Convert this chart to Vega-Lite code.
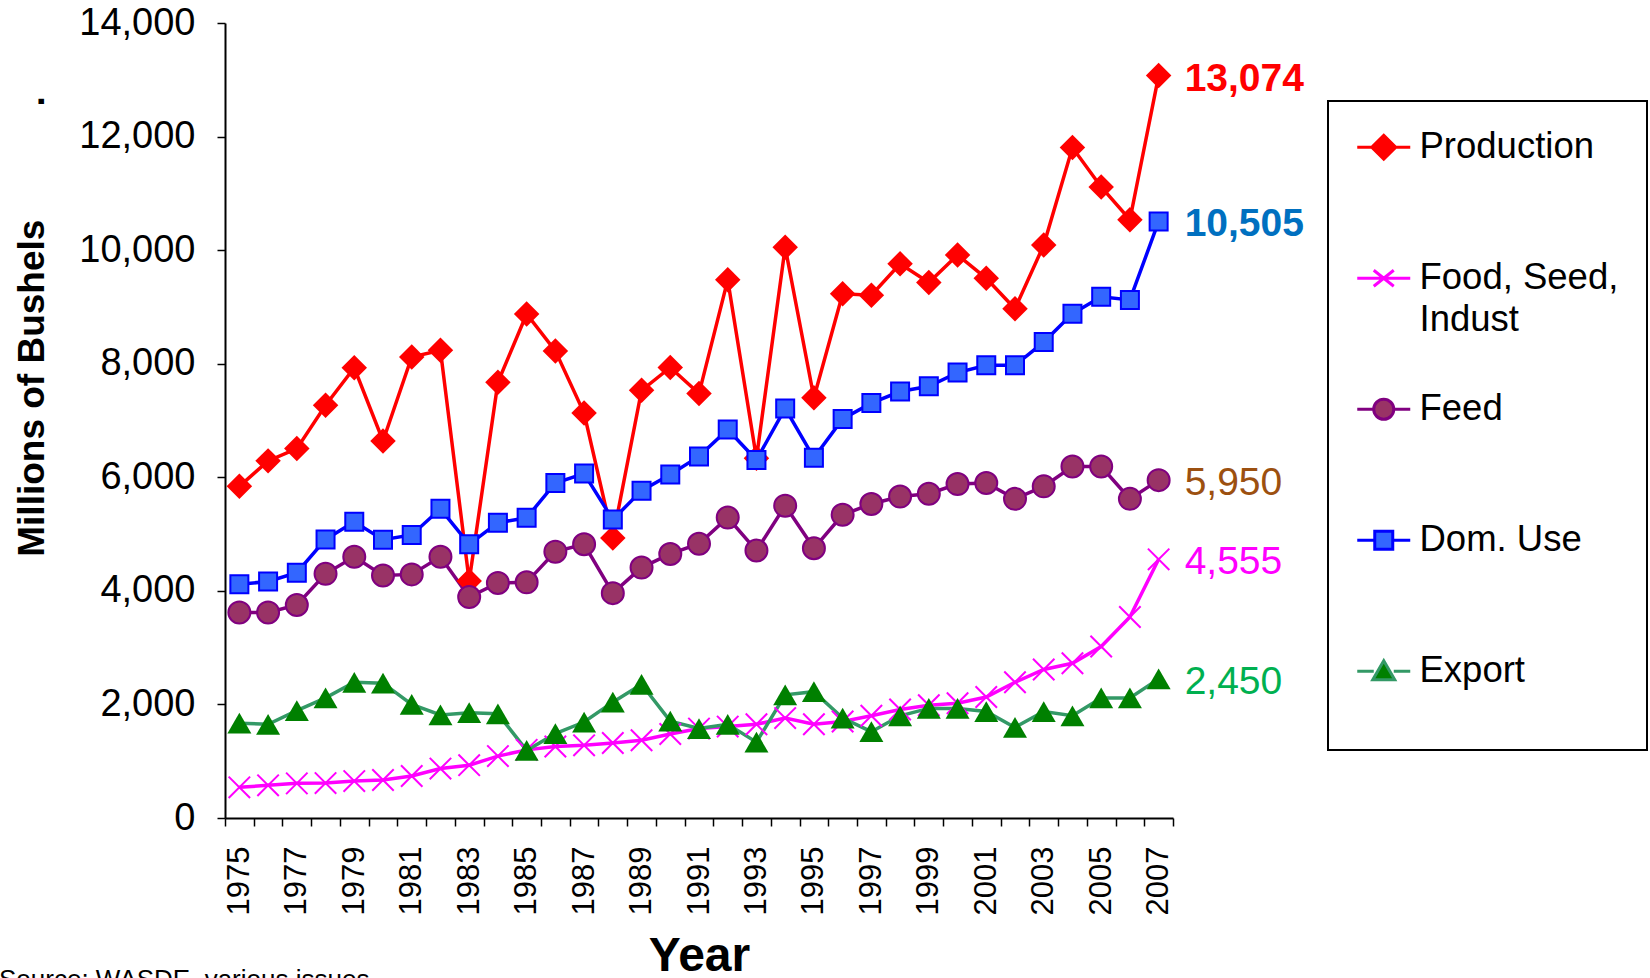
{
  "$schema": "https://vega.github.io/schema/vega-lite/v6.json",
  "width": 948,
  "height": 795,
  "autosize": {"type": "none"},
  "padding": {"left": 225, "top": 23, "right": 477, "bottom": 160},
  "background": "white",
  "config": {"view": {"stroke": null}, "font": "Liberation Sans"},
  "title": {"text": "Source: WASDE, various issues", "orient": "bottom", "anchor": "start", "frame": "group", "offset": 8, "dx": -226, "baseline": "alphabetic", "fontSize": 26, "fontWeight": "normal", "font": "Liberation Sans", "color": "black"},
  "data": {"values": [
    {"year":1975,"series":"Production","value":5841},{"year":1976,"series":"Production","value":6289},{"year":1977,"series":"Production","value":6505},{"year":1978,"series":"Production","value":7268},{"year":1979,"series":"Production","value":7928},{"year":1980,"series":"Production","value":6639},{"year":1981,"series":"Production","value":8119},{"year":1982,"series":"Production","value":8235},{"year":1983,"series":"Production","value":4174},{"year":1984,"series":"Production","value":7672},{"year":1985,"series":"Production","value":8875},{"year":1986,"series":"Production","value":8226},{"year":1987,"series":"Production","value":7131},{"year":1988,"series":"Production","value":4929},{"year":1989,"series":"Production","value":7531},{"year":1990,"series":"Production","value":7934},{"year":1991,"series":"Production","value":7474},{"year":1992,"series":"Production","value":9477},{"year":1993,"series":"Production","value":6336},{"year":1994,"series":"Production","value":10051},{"year":1995,"series":"Production","value":7400},{"year":1996,"series":"Production","value":9233},{"year":1997,"series":"Production","value":9207},{"year":1998,"series":"Production","value":9759},{"year":1999,"series":"Production","value":9431},{"year":2000,"series":"Production","value":9915},{"year":2001,"series":"Production","value":9503},{"year":2002,"series":"Production","value":8967},{"year":2003,"series":"Production","value":10089},{"year":2004,"series":"Production","value":11807},{"year":2005,"series":"Production","value":11112},{"year":2006,"series":"Production","value":10535},{"year":2007,"series":"Production","value":13074},
    {"year":1975,"series":"Food, Seed, Indust","value":540},{"year":1976,"series":"Food, Seed, Indust","value":575},{"year":1977,"series":"Food, Seed, Indust","value":610},{"year":1978,"series":"Food, Seed, Indust","value":615},{"year":1979,"series":"Food, Seed, Indust","value":650},{"year":1980,"series":"Food, Seed, Indust","value":670},{"year":1981,"series":"Food, Seed, Indust","value":740},{"year":1982,"series":"Food, Seed, Indust","value":870},{"year":1983,"series":"Food, Seed, Indust","value":930},{"year":1984,"series":"Food, Seed, Indust","value":1090},{"year":1985,"series":"Food, Seed, Indust","value":1200},{"year":1986,"series":"Food, Seed, Indust","value":1260},{"year":1987,"series":"Food, Seed, Indust","value":1280},{"year":1988,"series":"Food, Seed, Indust","value":1320},{"year":1989,"series":"Food, Seed, Indust","value":1370},{"year":1990,"series":"Food, Seed, Indust","value":1480},{"year":1991,"series":"Food, Seed, Indust","value":1575},{"year":1992,"series":"Food, Seed, Indust","value":1610},{"year":1993,"series":"Food, Seed, Indust","value":1650},{"year":1994,"series":"Food, Seed, Indust","value":1760},{"year":1995,"series":"Food, Seed, Indust","value":1650},{"year":1996,"series":"Food, Seed, Indust","value":1700},{"year":1997,"series":"Food, Seed, Indust","value":1800},{"year":1998,"series":"Food, Seed, Indust","value":1910},{"year":1999,"series":"Food, Seed, Indust","value":1985},{"year":2000,"series":"Food, Seed, Indust","value":2020},{"year":2001,"series":"Food, Seed, Indust","value":2130},{"year":2002,"series":"Food, Seed, Indust","value":2390},{"year":2003,"series":"Food, Seed, Indust","value":2615},{"year":2004,"series":"Food, Seed, Indust","value":2725},{"year":2005,"series":"Food, Seed, Indust","value":3020},{"year":2006,"series":"Food, Seed, Indust","value":3540},{"year":2007,"series":"Food, Seed, Indust","value":4555},
    {"year":1975,"series":"Feed","value":3620},{"year":1976,"series":"Feed","value":3620},{"year":1977,"series":"Feed","value":3750},{"year":1978,"series":"Feed","value":4300},{"year":1979,"series":"Feed","value":4600},{"year":1980,"series":"Feed","value":4270},{"year":1981,"series":"Feed","value":4290},{"year":1982,"series":"Feed","value":4600},{"year":1983,"series":"Feed","value":3890},{"year":1984,"series":"Feed","value":4140},{"year":1985,"series":"Feed","value":4150},{"year":1986,"series":"Feed","value":4690},{"year":1987,"series":"Feed","value":4820},{"year":1988,"series":"Feed","value":3960},{"year":1989,"series":"Feed","value":4410},{"year":1990,"series":"Feed","value":4650},{"year":1991,"series":"Feed","value":4830},{"year":1992,"series":"Feed","value":5290},{"year":1993,"series":"Feed","value":4710},{"year":1994,"series":"Feed","value":5500},{"year":1995,"series":"Feed","value":4750},{"year":1996,"series":"Feed","value":5340},{"year":1997,"series":"Feed","value":5530},{"year":1998,"series":"Feed","value":5660},{"year":1999,"series":"Feed","value":5710},{"year":2000,"series":"Feed","value":5880},{"year":2001,"series":"Feed","value":5900},{"year":2002,"series":"Feed","value":5620},{"year":2003,"series":"Feed","value":5840},{"year":2004,"series":"Feed","value":6190},{"year":2005,"series":"Feed","value":6190},{"year":2006,"series":"Feed","value":5620},{"year":2007,"series":"Feed","value":5950},
    {"year":1975,"series":"Dom. Use","value":4115},{"year":1976,"series":"Dom. Use","value":4165},{"year":1977,"series":"Dom. Use","value":4320},{"year":1978,"series":"Dom. Use","value":4905},{"year":1979,"series":"Dom. Use","value":5215},{"year":1980,"series":"Dom. Use","value":4900},{"year":1981,"series":"Dom. Use","value":4985},{"year":1982,"series":"Dom. Use","value":5445},{"year":1983,"series":"Dom. Use","value":4820},{"year":1984,"series":"Dom. Use","value":5200},{"year":1985,"series":"Dom. Use","value":5287},{"year":1986,"series":"Dom. Use","value":5900},{"year":1987,"series":"Dom. Use","value":6065},{"year":1988,"series":"Dom. Use","value":5255},{"year":1989,"series":"Dom. Use","value":5765},{"year":1990,"series":"Dom. Use","value":6050},{"year":1991,"series":"Dom. Use","value":6368},{"year":1992,"series":"Dom. Use","value":6842},{"year":1993,"series":"Dom. Use","value":6305},{"year":1994,"series":"Dom. Use","value":7213},{"year":1995,"series":"Dom. Use","value":6342},{"year":1996,"series":"Dom. Use","value":7028},{"year":1997,"series":"Dom. Use","value":7306},{"year":1998,"series":"Dom. Use","value":7510},{"year":1999,"series":"Dom. Use","value":7603},{"year":2000,"series":"Dom. Use","value":7844},{"year":2001,"series":"Dom. Use","value":7973},{"year":2002,"series":"Dom. Use","value":7973},{"year":2003,"series":"Dom. Use","value":8381},{"year":2004,"series":"Dom. Use","value":8882},{"year":2005,"series":"Dom. Use","value":9179},{"year":2006,"series":"Dom. Use","value":9123},{"year":2007,"series":"Dom. Use","value":10505},
    {"year":1975,"series":"Export","value":1670},{"year":1976,"series":"Export","value":1650},{"year":1977,"series":"Export","value":1890},{"year":1978,"series":"Export","value":2115},{"year":1979,"series":"Export","value":2390},{"year":1980,"series":"Export","value":2375},{"year":1981,"series":"Export","value":2000},{"year":1982,"series":"Export","value":1815},{"year":1983,"series":"Export","value":1855},{"year":1984,"series":"Export","value":1835},{"year":1985,"series":"Export","value":1190},{"year":1986,"series":"Export","value":1485},{"year":1987,"series":"Export","value":1690},{"year":1988,"series":"Export","value":2040},{"year":1989,"series":"Export","value":2355},{"year":1990,"series":"Export","value":1705},{"year":1991,"series":"Export","value":1575},{"year":1992,"series":"Export","value":1650},{"year":1993,"series":"Export","value":1335},{"year":1994,"series":"Export","value":2170},{"year":1995,"series":"Export","value":2225},{"year":1996,"series":"Export","value":1760},{"year":1997,"series":"Export","value":1520},{"year":1998,"series":"Export","value":1800},{"year":1999,"series":"Export","value":1930},{"year":2000,"series":"Export","value":1930},{"year":2001,"series":"Export","value":1875},{"year":2002,"series":"Export","value":1595},{"year":2003,"series":"Export","value":1875},{"year":2004,"series":"Export","value":1800},{"year":2005,"series":"Export","value":2115},{"year":2006,"series":"Export","value":2115},{"year":2007,"series":"Export","value":2450}
  ]},
  "encoding": {
    "x": {
      "field": "year", "type": "ordinal", "bandPosition": 0.5,
      "scale": {"type": "band", "paddingInner": 0, "paddingOuter": 0},
      "axis": {
        "title": "Year", "titleFont": "Liberation Sans", "titleFontSize": 48, "titleFontWeight": "bold", "titleColor": "black", "titleBaseline": "alphabetic", "titleY": 152,
        "labelAngle": -90, "labelFontSize": 31, "labelColor": "black", "labelPadding": 20, "labelOverlap": false,
        "labelExpr": "datum.value % 2 == 1 ? datum.label : ''",
        "tickBand": "extent", "ticks": true, "tickSize": 8, "tickWidth": 1.5, "tickColor": "black",
        "domainColor": "black", "domainWidth": 2, "grid": false
      }
    },
    "y": {
      "field": "value", "type": "quantitative",
      "scale": {"domain": [0, 14000], "nice": false},
      "axis": {
        "title": "Millions of Bushels\u00a0\u00a0\u00a0\u00a0\u00a0\u00a0\u00a0\u00a0\u00a0\u00a0\u00a0.",
        "titleFont": "Liberation Sans", "titleFontSize": 37, "titleFontWeight": "bold", "titleColor": "black",
        "titleX": -182, "titleY": 303, "titleBaseline": "alphabetic", "titleAlign": "center", "titleAngle": -90,
        "values": [0, 2000, 4000, 6000, 8000, 10000, 12000, 14000], "format": ",d",
        "labelFontSize": 38, "labelColor": "black", "labelPadding": 22, "labelFlush": false,
        "tickSize": 8, "tickWidth": 1.5, "tickColor": "black",
        "domainColor": "black", "domainWidth": 2, "grid": false
      }
    }
  },
  "layer": [
    {
      "mark": {"type": "line", "strokeWidth": 3.5},
      "encoding": {
        "color": {
          "field": "series", "type": "nominal",
          "scale": {"domain": ["Production", "Food, Seed, Indust", "Feed", "Dom. Use", "Export"], "range": ["#FF0000", "#FF00FF", "#800080", "#0000FF", "#339966"]},
          "legend": {
            "title": "\u00a0", "titleOrient": "bottom", "titleFontSize": 24, "titlePadding": 8,
            "orient": "none", "legendX": 1103, "legendY": 78,
            "strokeColor": "black", "fillColor": "white", "padding": 28,
            "labelFont": "Liberation Sans", "labelFontSize": 36.5, "labelColor": "black", "labelLimit": 400, "labelOffset": 17.5,
            "symbolSize": 400, "symbolStrokeWidth": 3, "symbolOffset": 9.5,
            "rowPadding": 52, "gridAlign": "all",
            "labelExpr": "datum.value === 'Food, Seed, Indust' ? ['Food, Seed,', 'Indust'] : datum.label",
            "encode": {
              "legend": {"update": {"strokeWidth": {"value": 2}}},
              "symbols": {"update": {
                "shape": {"signal": "datum.value === 'Production' ? 'M-2.65,0H-1.2M1.2,0H2.65M0,-1.2L1.2,0L0,1.2L-1.2,0Z' : datum.value === 'Food, Seed, Indust' ? 'M-2.65,0H2.65M-1,-0.8L1,0.8M-1,0.8L1,-0.8' : datum.value === 'Feed' ? 'M-2.65,0H-1M1,0H2.65M-1,0A1,1,0,1,1,1,0A1,1,0,1,1,-1,0Z' : datum.value === 'Dom. Use' ? 'M-2.65,0H-0.9M0.9,0H2.65M-0.9,-0.9H0.9V0.9H-0.9Z' : 'M-2.65,0H-1M1,0H2.65M0,-1.05L1.1,0.85H-1.1Z'"},
                "fill": {"signal": "datum.value === 'Production' ? '#FF0000' : datum.value === 'Food, Seed, Indust' ? 'transparent' : datum.value === 'Feed' ? '#993366' : datum.value === 'Dom. Use' ? '#3366FF' : '#008000'"},
                "stroke": {"signal": "datum.value === 'Production' ? '#FF0000' : datum.value === 'Food, Seed, Indust' ? '#FF00FF' : datum.value === 'Feed' ? '#800080' : datum.value === 'Dom. Use' ? '#0000FF' : '#339966'"},
                "strokeWidth": {"value": 3},
                "opacity": {"value": 1}
              }},
              "labels": {"update": {
                "lineHeight": {"value": 42}
              }}
            }
          }
        }
      }
    },
    {
      "transform": [{"filter": "datum.series === 'Production'"}],
      "mark": {"type": "point", "shape": "diamond", "filled": true, "fill": "#FF0000", "size": 650, "opacity": 1}
    },
    {
      "transform": [{"filter": "datum.series === 'Food, Seed, Indust'"}],
      "mark": {"type": "point", "shape": "M-1,-1L1,1M-1,1L1,-1", "filled": false, "stroke": "#FF00FF", "strokeWidth": 2, "size": 460, "opacity": 1}
    },
    {
      "transform": [{"filter": "datum.series === 'Feed'"}],
      "mark": {"type": "point", "shape": "circle", "filled": true, "fill": "#993366", "stroke": "#800080", "strokeWidth": 2, "size": 484, "opacity": 1}
    },
    {
      "transform": [{"filter": "datum.series === 'Dom. Use'"}],
      "mark": {"type": "point", "shape": "square", "filled": true, "fill": "#3366FF", "stroke": "#0000FF", "strokeWidth": 2, "size": 324, "opacity": 1}
    },
    {
      "transform": [{"filter": "datum.series === 'Export'"}],
      "mark": {"type": "point", "shape": "triangle-up", "filled": true, "fill": "#008000", "size": 576, "opacity": 1}
    },
    {
      "transform": [{"filter": "datum.year === 2007 && datum.series === 'Production'"}],
      "mark": {"type": "text", "align": "left", "baseline": "middle", "dx": 26, "dy": 3, "fontSize": 39, "fontWeight": "bold", "color": "#FF0000"},
      "encoding": {"text": {"field": "value", "type": "quantitative", "format": ",d"}}
    },
    {
      "transform": [{"filter": "datum.year === 2007 && datum.series === 'Dom. Use'"}],
      "mark": {"type": "text", "align": "left", "baseline": "middle", "dx": 26, "dy": 3, "fontSize": 39, "fontWeight": "bold", "color": "#0070C0"},
      "encoding": {"text": {"field": "value", "type": "quantitative", "format": ",d"}}
    },
    {
      "transform": [{"filter": "datum.year === 2007 && datum.series === 'Feed'"}],
      "mark": {"type": "text", "align": "left", "baseline": "middle", "dx": 26, "dy": 3, "fontSize": 39, "color": "#9C5010"},
      "encoding": {"text": {"field": "value", "type": "quantitative", "format": ",d"}}
    },
    {
      "transform": [{"filter": "datum.year === 2007 && datum.series === 'Food, Seed, Indust'"}],
      "mark": {"type": "text", "align": "left", "baseline": "middle", "dx": 26, "dy": 3, "fontSize": 39, "color": "#FF00FF"},
      "encoding": {"text": {"field": "value", "type": "quantitative", "format": ",d"}}
    },
    {
      "transform": [{"filter": "datum.year === 2007 && datum.series === 'Export'"}],
      "mark": {"type": "text", "align": "left", "baseline": "middle", "dx": 26, "dy": 3, "fontSize": 39, "color": "#00B050"},
      "encoding": {"text": {"field": "value", "type": "quantitative", "format": ",d"}}
    }
  ]
}
